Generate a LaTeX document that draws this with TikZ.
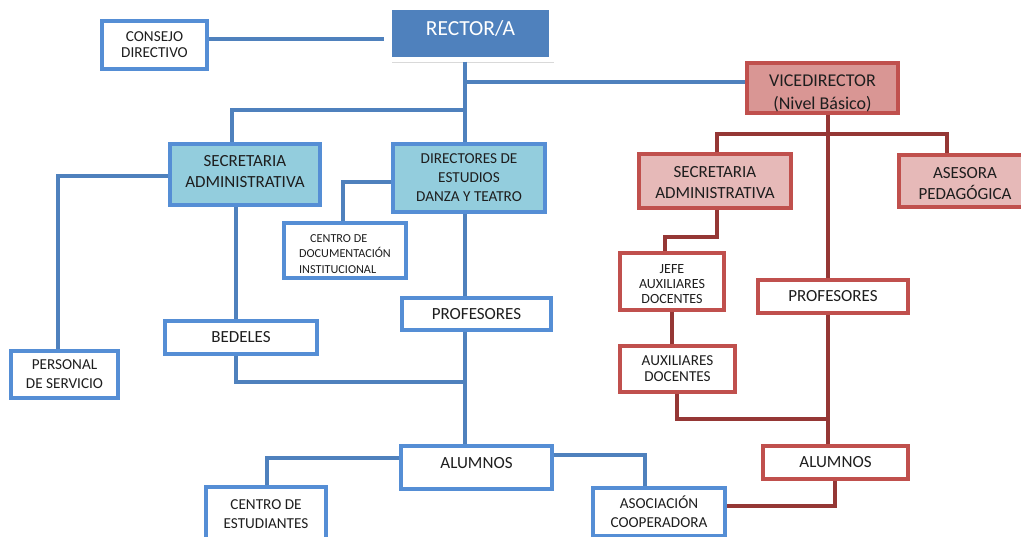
\documentclass[tikz,border=0pt]{standalone}
\usepackage{fontspec}
\setmainfont{Carlito}
\usetikzlibrary{shadows}

\definecolor{lineblue}{RGB}{79,129,189}
\definecolor{edgeblue}{RGB}{85,142,213}
\definecolor{rectorfill}{RGB}{79,129,189}
\definecolor{cyanfill}{RGB}{147,205,221}
\definecolor{linered}{RGB}{149,55,53}
\definecolor{edgered}{RGB}{192,80,77}
\definecolor{vicefill}{RGB}{217,150,148}
\definecolor{pinkfill}{RGB}{230,185,184}
\definecolor{ink}{RGB}{30,30,30}

\newcommand{\fsz}[2]{\fontsize{#1}{#2}\selectfont}
% struts to move the text of a box down (sink) or up (lift)
\newcommand{\sink}[1]{\rule[#1]{0pt}{\fontcharht\font`A}}
\newcommand{\lift}[1]{\rule[-#1]{0pt}{0pt}}

\begin{document}
\begin{tikzpicture}[x=1pt, y=-1pt,
    bluebox/.style={draw=edgeblue, line width=3.3pt, fill=white, text=ink, align=center, inner sep=0pt},
    redbox/.style={bluebox, draw=edgered},
    wire/.style={draw=lineblue, line width=3.2pt},
    redwire/.style={draw=linered, line width=3.2pt},
    rectortext/.style={font=\fsz{21.5}{25}},
    vicetext/.style={font=\fsz{18}{23}},
    bigtext/.style={font=\fsz{17}{21.5}},
    midtext/.style={font=\fsz{15.2}{19}},
    tighttext/.style={font=\fsz{15.2}{16}},
    smalltext/.style={font=\fsz{14}{15}},
    tinytext/.style={font=\fsz{12.2}{15.5}}]
  \useasboundingbox (0,0) rectangle (1021,536);

  \node[bluebox, rectortext, fill=rectorfill, draw=white, line width=5pt, text=white,
        drop shadow={opacity=0.3, shadow xshift=2pt, shadow yshift=-4pt},
        minimum width=162pt, minimum height=52pt, text height=14pt, text depth=9pt]
        (rector) at (470.5, 33) {RECTOR/A};

  \node[bluebox, tighttext, minimum width=105pt, minimum height=48pt] (consejo) at (154.5, 45) {CONSEJO\\DIRECTIVO};
  \coordinate (c1) at (384, 39);
  \draw[wire] (consejo.east |- c1) -- (c1);

  \coordinate (jr) at (465, 82);
  \coordinate (js) at (465, 110);

  \node[redbox, vicetext, fill=vicefill, minimum width=151pt, minimum height=50pt] (vice) at (822.5, 88) {\sink{10pt}VICEDIRECTOR\\(Nivel Básico)};
  \draw[wire] (jr) -- (vice.west |- jr);

  \node[bluebox, bigtext, fill=cyanfill, minimum width=150pt, minimum height=61pt] (secb) at (245, 174.5) {SECRETARIA\\ADMINISTRATIVA\lift{6pt}};
  \coordinate (ks) at (232, 110);
  \draw[wire] (js) -- (ks) -- (secb.north -| ks);

  \node[bluebox, midtext, fill=cyanfill, minimum width=152pt, minimum height=68pt] (dirs) at (469, 178) {DIRECTORES DE\\ESTUDIOS\\DANZA Y TEATRO};
  \draw[wire] (rector.south -| jr) -- (dirs.north -| jr);

  \node[redbox, bigtext, fill=pinkfill, minimum width=152pt, minimum height=54pt] (secr) at (715, 181) {\sink{3pt}SECRETARIA\\ADMINISTRATIVA};
  \node[redbox, bigtext, fill=pinkfill, minimum width=132pt, minimum height=52pt] (ases) at (965, 181) {\sink{5pt}ASESORA\\PEDAGÓGICA};
  \coordinate (kr1) at (717, 134);
  \coordinate (kr2) at (947, 134);
  \draw[redwire] (secr.north -| kr1) -- (kr1) -- (kr2) -- (ases.north -| kr2);

  \node[bluebox, tinytext, align=left, minimum width=122pt, minimum height=55pt] (cdoc) at (345, 250.5) {\hspace*{11pt}\sink{7pt}CENTRO DE\\DOCUMENTACIÓN\\INSTITUCIONAL};
  \coordinate (kc) at (343, 182);
  \draw[wire] (dirs.west |- kc) -- (kc) -- (cdoc.north -| kc);

  \node[redbox, smalltext, minimum width=104pt, minimum height=57pt] (jefe) at (672, 281.5) {\sink{6pt}JEFE\\AUXILIARES\\DOCENTES};
  \coordinate (kj1) at (717, 237);
  \coordinate (kj2) at (665, 237);
  \draw[redwire] (secr.south -| kj1) -- (kj1) -- (kj2) -- (jefe.north -| kj2);

  \node[bluebox, bigtext, minimum width=149pt, minimum height=32pt] (prof) at (476.5, 314) {PROFESORES};
  \draw[wire] (dirs.south -| jr) -- (prof.north -| jr);

  \node[redbox, bigtext, minimum width=150pt, minimum height=33pt] (profr) at (833, 296.5) {PROFESORES};
  \coordinate (jv) at (828, 134);
  \draw[redwire] (vice.south -| jv) -- (profr.north -| jv);

  \node[bluebox, bigtext, minimum width=152pt, minimum height=33pt] (bed) at (241, 337.5) {BEDELES};
  \coordinate (kb) at (236, 382);
  \draw[wire] (secb.south -| kb) -- (bed.north -| kb);
  \draw[wire] (bed.south -| kb) -- (kb) -- (kb -| jr);

  \node[bluebox, midtext, minimum width=107pt, minimum height=47pt] (pers) at (64.5, 374.5) {PERSONAL\\DE SERVICIO};
  \coordinate (kp) at (58, 176);
  \draw[wire] (secb.west |- kp) -- (kp) -- (pers.north -| kp);

  \node[redbox, tighttext, minimum width=115pt, minimum height=46pt] (aux) at (677.5, 369) {AUXILIARES\\DOCENTES};
  \draw[redwire] (jefe.south) -- (aux.north -| jefe.south);
  \coordinate (kx) at (677, 419);
  \draw[redwire] (aux.south -| kx) -- (kx) -- (kx -| jv);

  \node[bluebox, bigtext, minimum width=151pt, minimum height=43pt, text height=11pt, text depth=9pt] (alb) at (476.5, 467.5) {ALUMNOS};
  \draw[wire] (prof.south -| jr) -- (alb.north -| jr);

  \node[redbox, bigtext, minimum width=145pt, minimum height=33pt] (alr) at (835.5, 462.5) {ALUMNOS};
  \draw[redwire] (profr.south -| jv) -- (alr.north -| jv);

  \node[bluebox, midtext, minimum width=120pt, minimum height=54pt] (cest) at (266, 514) {CENTRO DE\\ESTUDIANTES};
  \coordinate (ke) at (267, 458);
  \draw[wire] (alb.west |- ke) -- (ke) -- (cest.north -| ke);

  \node[bluebox, midtext, minimum width=132pt, minimum height=48pt] (asoc) at (659, 512) {ASOCIACIÓN\\COOPERADORA};
  \coordinate (ka) at (645, 455);
  \draw[wire] (alb.east |- ka) -- (ka) -- (asoc.north -| ka);

  \coordinate (kq) at (835, 506);
  \draw[redwire] (alr.south -| kq) -- (kq) -- (asoc.east |- kq);
\end{tikzpicture}
\end{document}
